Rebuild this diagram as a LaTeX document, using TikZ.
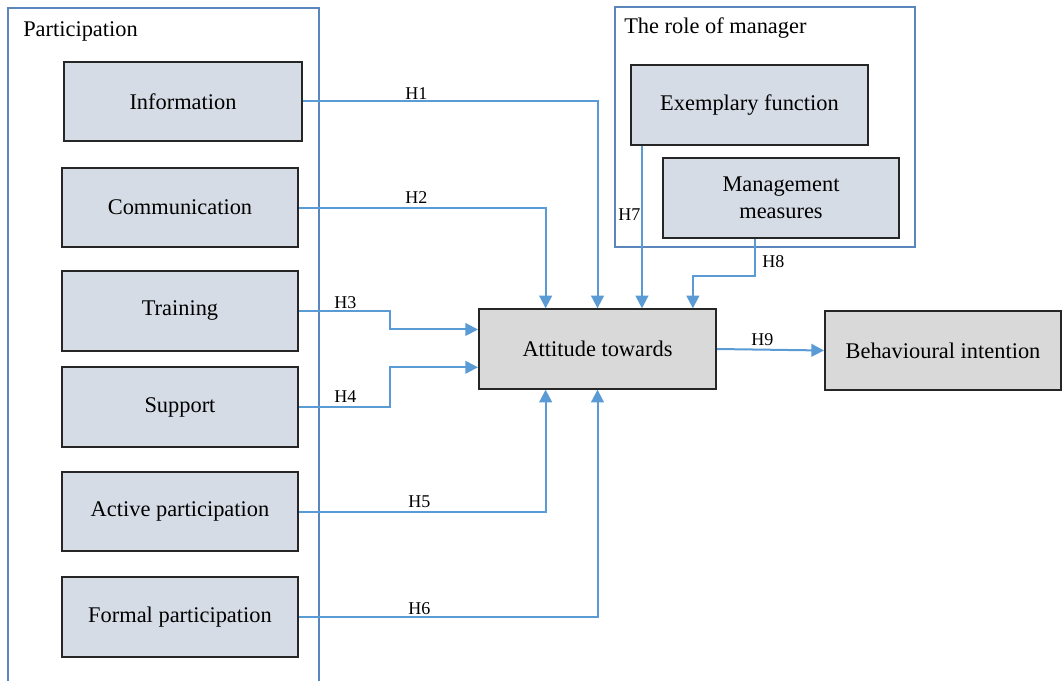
\documentclass[tikz,border=0pt]{standalone}
\usepackage{fontspec}
\setmainfont{Liberation Serif}
\usetikzlibrary{arrows.meta,calc}
\definecolor{boxblue}{HTML}{D6DCE5}
\definecolor{boxgrey}{HTML}{D9D9D9}
\definecolor{conncol}{HTML}{5B9BD5}
\definecolor{framecol}{HTML}{5A86BC}
\tikzset{
  boxa/.style={draw=black!85, line width=1.5pt, fill=boxblue, inner sep=0pt, font=\fontsize{16.8}{20}\selectfont, align=center, minimum width=177pt, minimum height=59.5pt},
  boxg/.style={boxa, fill=boxgrey},
  frame/.style={draw=framecol, line width=1.2pt},
  conn/.style={draw=conncol, line width=1.5pt, -{Triangle[length=9.5pt,width=9.5pt]}},
  hlab/.style={anchor=base west, inner sep=0pt, font=\fontsize{13.5}{15}\selectfont},
  title/.style={anchor=west, inner sep=0pt, font=\fontsize{16.8}{19}\selectfont}
}
\begin{document}
\begin{tikzpicture}[x=0.75pt,y=-0.75pt]
\useasboundingbox (0,0) rectangle (1063,681);
% frames
\draw[frame] (8,700) -- (8,8) -- (319,8) -- (319,700);
\draw[frame] (615,7) rectangle (915,247);
\node[title] (tp) at (23,31) {Participation};
\node[title] (tm) at (624,28) {The role of manager};
% participation boxes
\node[boxa, minimum width=178.5pt] (info) at (183,101.5) {Information};
\node[boxa] (comm) at (180,207.5) {Communication};
\node[boxa] (tr) at (180,311) {Training};
\node[boxa] (su) at (180,407) {Support};
\node[boxa] (ap) at (180,511.5) {Active participation};
\node[boxa] (fp) at (180,617) {Formal participation};
% manager boxes
\node[boxa, minimum width=177.75pt] (ex) at (749.5,105) {Exemplary function};
\node[boxa] (mm) at (781,198) {Management\\measures};
% central
\node[boxg, minimum width=177.75pt] (att) at (597.5,349) {Attitude towards};
\node[boxg] (bi) at (943,350.5) {Behavioural intention};
% anchor points
\coordinate (a2) at ($(att.north west)!0.283!(att.north east)$);
\coordinate (a8) at ($(att.north west)!0.899!(att.north east)$);
\coordinate (a3) at ($(att.north west)!0.26!(att.south west)$);
\coordinate (a4) at ($(att.north west)!0.725!(att.south west)$);
\coordinate (a5) at ($(att.south west)!0.283!(att.south east)$);
\coordinate (e7) at ($(ex.south west)!0.05!(ex.south east)$);
\coordinate (m8) at ($(mm.south west)!0.39!(mm.south east)$);
% connectors
\draw[conn] (info.east) -| (att.north);
\draw[conn] (comm.east) -| (a2);
\draw[conn] (tr.east) -- ++(91,0) |- (a3);
\draw[conn] (su.east) -- ++(91,0) |- (a4);
\draw[conn] (ap.east) -| (a5);
\draw[conn] (fp.east) -| (att.south);
\draw[conn] (e7) -- (e7 |- att.north);
\draw[conn] (m8) -- ++(0,37) -| (a8);
\draw[conn] (att.east) -- (bi.west);
% labels
\node[hlab] (h1) at (405,100) {H1};
\node[hlab] (h2) at (405,204) {H2};
\node[hlab] (h3) at (334,308) {H3};
\node[hlab] (h4) at (334,402) {H4};
\node[hlab] (h5) at (408,507) {H5};
\node[hlab] (h6) at (408,614) {H6};
\node[hlab] (h7) at (618,220) {H7};
\node[hlab] (h8) at (762,267) {H8};
\node[hlab] (h9) at (751,345) {H9};
\end{tikzpicture}
\end{document}
